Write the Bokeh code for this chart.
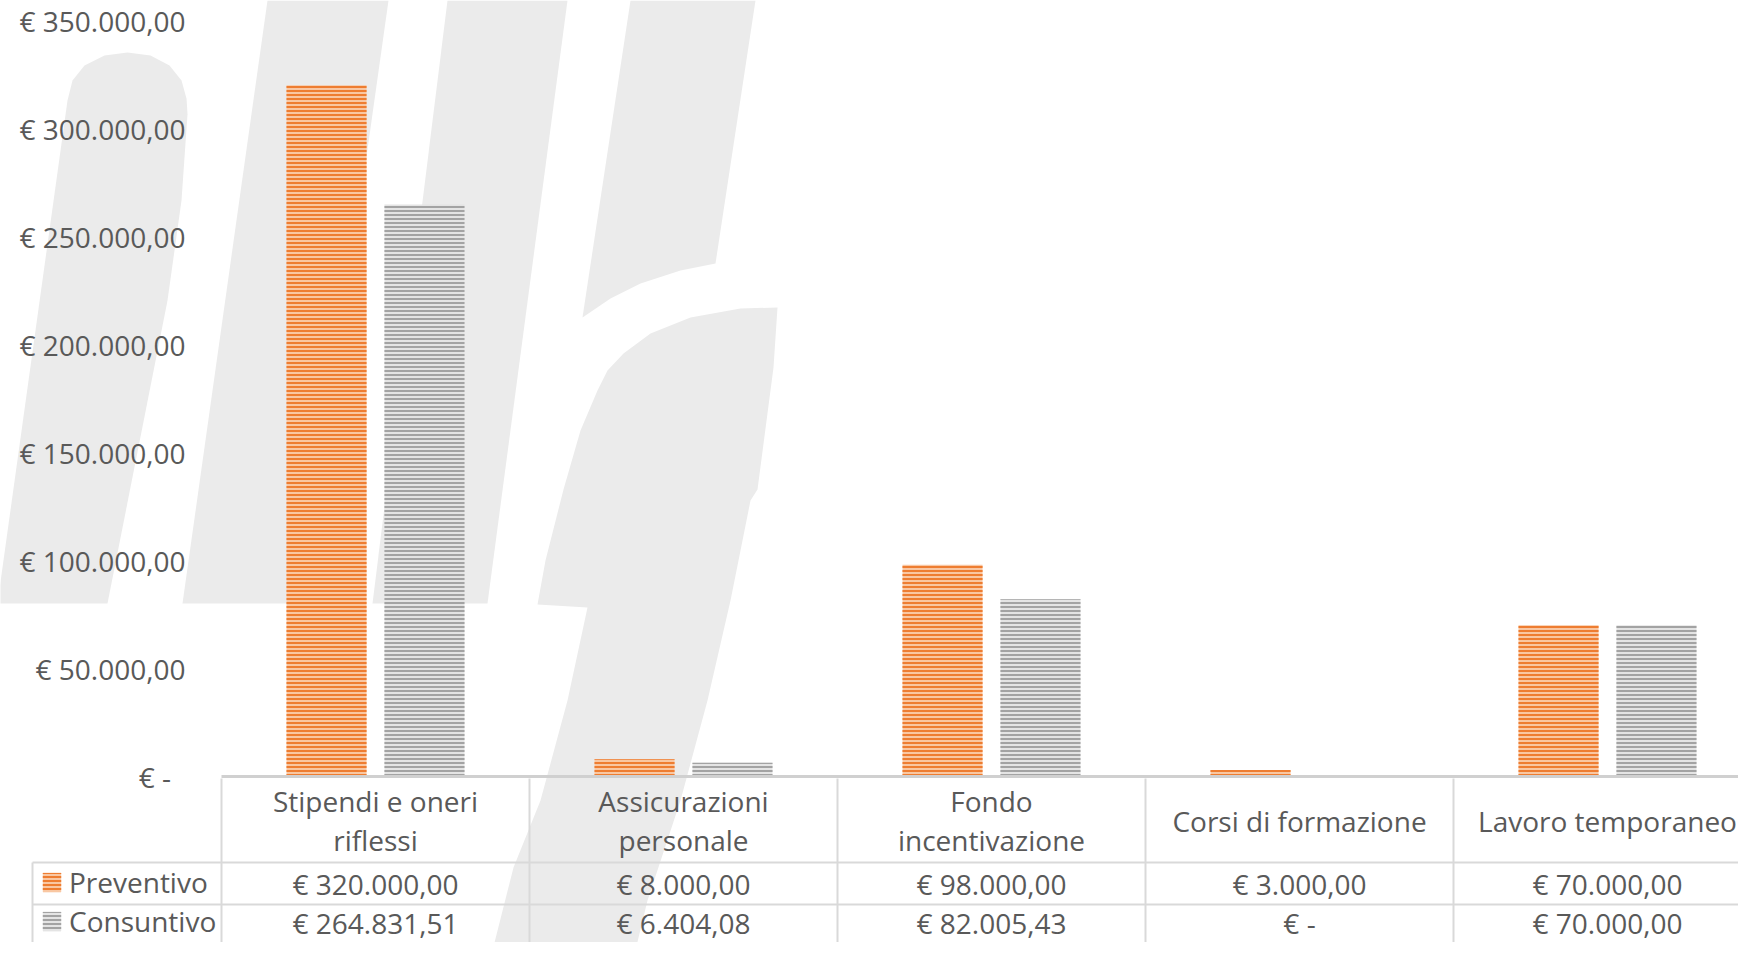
import numpy as np
from bokeh.plotting import figure
from bokeh.models import (Range1d, PolyAnnotation, Legend, LegendItem, ColumnDataSource)
from bokeh.transform import dodge
from bokeh.core.properties import value
from bokeh.embed import file_html
from bokeh.resources import INLINE

# ---------------- data ----------------
categories = ["Stipendi e oneri\nriflessi", "Assicurazioni\npersonale",
              "Fondo\nincentivazione", "Corsi di formazione", "Lavoro temporaneo"]
preventivo = [320000.00, 8000.00, 98000.00, 3000.00, 70000.00]
consuntivo = [264831.51, 6404.08, 82005.43, 0.00, 70000.00]
series_names = ["Preventivo", "Consuntivo"]
y_ticks = [0, 50000, 100000, 150000, 200000, 250000, 300000, 350000]


def eur(v):
    if v == 0:
        return "€ -"
    s = f"{v:,.2f}".replace(",", "X").replace(".", ",").replace("X", ".")
    return "€ " + s


# ---------------- layout constants (canvas px) ----------------
W, H = 1738, 942
PLOT_LEFT = 221              # x of the first category boundary
PX_PER_CAT = 308
Y0_C, Y350_C = 776, 20       # canvas px of 0 and 350000
s = (Y0_C - Y350_C) / 350000.0
y_top = 350000 + Y350_C / s
y_bot = -(H - Y0_C) / s

FONT = value("Open Sans")
FS = "28px"
TXT = "#595959"
GRID = "#D9D9D9"
WM = "#EBEBEB"

p = figure(width=W, height=H, output_backend="svg", toolbar_location=None,
           x_range=Range1d(-PLOT_LEFT / PX_PER_CAT, (W - PLOT_LEFT) / PX_PER_CAT),
           y_range=Range1d(y_bot, y_top),
           x_axis_type=None, y_axis_type=None,
           min_border_left=0, min_border_right=0,
           min_border_top=0, min_border_bottom=0,
           outline_line_color=None, background_fill_color="white",
           border_fill_color="white")
p.extra_x_ranges = {"px": Range1d(0, W)}
p.extra_y_ranges = {"px": Range1d(start=H, end=0)}
p.xgrid.visible = False
p.ygrid.visible = False

# ---------------- watermark (decorative background, canvas px) ----------------
wm_shapes = [
    [(67, 100), (72, 80), (84, 65), (104, 55), (127, 52), (150, 55), (169, 65), (181, 80),
     (186, 98), (187, 114), (181, 200), (167, 300), (107, 603), (-3, 603)],
    [(267, 0), (388, 0), (303, 603), (182, 603)],
    [(447, 0), (567, 0), (487, 603), (372, 603)],
    [(630, 0), (755, 0), (715, 263), (680, 270), (640, 283), (610, 298), (582, 317)],
    [(777, 307), (740, 308), (690, 317), (650, 333), (623, 353), (607, 370), (597, 390),
     (580, 430), (563, 489), (545, 560), (537, 604),
     (587, 607), (567, 700), (540, 800), (513, 867), (490, 958), (633, 958), (647, 900),
     (680, 800), (707, 700), (730, 600), (750, 500), (757, 489), (773, 367)],
]
for shp in wm_shapes:
    p.add_layout(PolyAnnotation(xs=[a for a, b in shp], ys=[b for a, b in shp],
                                xs_units="canvas", ys_units="canvas",
                                fill_color=WM, fill_alpha=1.0, line_color=None,
                                level="underlay"))

# ---------------- value axis labels ----------------
tick_src = ColumnDataSource(dict(y=y_ticks,
                                 lbl=[eur(t) if t else "€ -\u00a0\u00a0" for t in y_ticks]))
p.text(x=185, y="y", text="lbl", source=tick_src, x_range_name="px",
       text_align="right", text_baseline="middle",
       text_font=FONT, text_font_size=FS, text_color=TXT)

# ---------------- bars ----------------
xc = [i + 0.5 for i in range(len(categories))]
src = ColumnDataSource(dict(x=xc, prev=preventivo, cons=consuntivo,
                            cat=categories,
                            prev_lbl=[eur(v) for v in preventivo],
                            cons_lbl=[eur(v) for v in consuntivo]))

r1 = p.vbar(x=dodge("x", -0.159), top="prev", width=0.26, source=src,
            fill_color="#F9C7A2", hatch_pattern="horizontal_line", hatch_color="#EE7D31",
            hatch_scale=4, hatch_weight=2, line_color=None)
r2 = p.vbar(x=dodge("x", 0.159), top="cons", width=0.26, source=src,
            fill_color="#E4E4E4", hatch_pattern="horizontal_line", hatch_color="#A3A3A3",
            hatch_scale=4, hatch_weight=2, line_color=None)

# category axis line
p.segment(x0=[0], x1=[len(categories)], y0=[0], y1=[0], line_color="#D0D0D0", line_width=3)

# ---------------- data table below ----------------
ROW_TOP, ROW1, ROW2 = 778, 862, 904
bounds = list(range(len(categories) + 1))
p.segment(x0=bounds, x1=bounds, y0=[ROW_TOP] * len(bounds), y1=[H] * len(bounds),
          y_range_name="px", line_color=GRID, line_width=2)
p.segment(x0=[32, 32], x1=[W, W], y0=[ROW1, ROW2], y1=[ROW1, ROW2],
          x_range_name="px", y_range_name="px", line_color=GRID, line_width=2)
p.segment(x0=[32], x1=[32], y0=[ROW1], y1=[H],
          x_range_name="px", y_range_name="px", line_color=GRID, line_width=2)

common = dict(source=src, y_range_name="px", text_align="center", text_baseline="middle",
              text_font=FONT, text_font_size=FS, text_color=TXT)
p.text(x="x", y=(ROW_TOP + ROW1) / 2, text="cat", text_line_height=1.03, **common)
p.text(x="x", y=(ROW1 + ROW2) / 2, text="prev_lbl", **common)
p.text(x="x", y=922, text="cons_lbl", **common)

legend = Legend(items=[LegendItem(label=series_names[0], renderers=[r1]),
                       LegendItem(label=series_names[1], renderers=[r2])],
                location=(40, 2),
                orientation="vertical", spacing=0, padding=0, margin=0,
                glyph_width=23, glyph_height=24, label_standoff=6, label_height=39,
                label_text_font="Open Sans", label_text_font_size=FS,
                label_text_color=TXT, border_line_color=None,
                background_fill_alpha=0)
p.add_layout(legend)

open("out.html", "w").write(file_html(p, INLINE))
